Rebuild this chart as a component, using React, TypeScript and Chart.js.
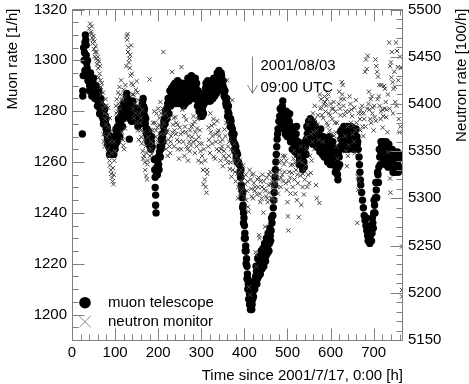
import React, { useEffect, useRef } from "react";
import { Chart, registerables } from "chart.js";

Chart.register(...registerables);

const FONT = "'Liberation Sans', Arial, Helvetica, sans-serif";
const AXIS_COLOR = "#808080";

// Axis ranges and ticks
const timeRange = [0, 768];
const muonRange = [1190, 1320];
const neutronRange = [5150, 5500];
const timeTicks = [0, 100, 200, 300, 400, 500, 600, 700];
const muonTicks = [1200, 1220, 1240, 1260, 1280, 1300, 1320];
const neutronTicks = [5150, 5200, 5250, 5300, 5350, 5400, 5450, 5500];

// Texts
const xTitle = "Time since 2001/7/17, 0:00 [h]";
const yTitle = "Muon rate [1/h]";
const y2Title = "Neutron rate [100/h]";
const seriesNames = ["muon telescope", "neutron monitor"];
const eventLines = ["2001/08/03", "09:00 UTC"];
const eventTime = 417;

// Muon telescope: [hours, rate 1/h]
const muonPoints: [number, number][] = [
  [24,1271],[25,1288],[25,1286],[26,1294],[27,1305],[28,1300],[29,1303],[30,1307],[31,1310],[32,1308],[33,1302],[34,1299],[35,1297],[36,1294],[37,1292],[38,1295],[39,1292],[40,1294],[41,1290],[42,1293],[43,1291],[44,1289],[45,1292],[47,1290],[48,1287],[49,1291],[51,1288],[52,1290],[54,1286],[55,1289],[57,1285],[58,1288],[60,1284],[61,1287],[62,1282],[63,1285],[65,1281],[66,1284],[67,1279],[68,1282],[70,1278],[71,1281],[72,1277],[74,1280],[75,1276],[77,1278],[78,1275],[79,1273],[80,1271],[81,1274],[82,1269],[83,1267],[84,1271],[85,1266],[86,1269],[88,1265],[89,1268],[90,1266],[92,1268],[93,1264],[95,1267],[96,1265],[98,1268],[99,1266],[100,1270],[101,1267],[103,1272],[104,1269],[106,1274],[107,1271],[109,1276],[110,1273],[112,1277],[113,1275],[115,1279],[116,1277],[118,1280],[119,1277],[121,1279],[122,1281],[124,1283],[125,1280],[126,1286],[127,1287],[128,1284],[130,1281],[131,1278],[132,1280],[133,1269],[134,1277],[136,1279],[137,1281],[139,1282],[140,1280],[142,1282],[143,1279],[145,1277],[146,1280],[148,1278],[149,1276],[151,1279],[152,1277],[154,1278],[155,1280],[157,1277],[158,1275],[160,1277],[161,1279],[163,1283],[164,1284],[166,1282],[167,1280],[169,1278],[170,1275],[172,1273],[173,1271],[175,1270],[176,1268],[178,1272],[179,1267],[181,1266],[182,1269],[184,1268],[186,1266],
  [191,1261],[192,1257],[193,1254],[193,1250],[194,1247],[194,1243],[195,1240],[196,1256],[197,1258],[198,1255],[199,1260],[200,1262],[201,1259],[203,1264],[204,1266],[206,1265],[207,1269],[209,1271],[210,1270],[212,1274],[213,1276],[215,1277],[216,1275],[218,1279],[219,1281],[221,1280],[222,1283],[224,1282],[226,1285],[228,1284],[230,1287],[232,1285],[234,1288],[236,1286],[238,1289],[240,1286],[242,1290],[244,1287],[246,1285],[248,1289],[250,1286],[252,1290],[254,1285],[256,1288],[258,1284],[260,1287],[262,1289],[264,1285],[266,1288],[268,1291],[270,1288],[272,1286],[274,1290],[276,1292],[278,1288],[280,1291],[282,1287],[284,1290],[286,1293],[288,1289],[290,1286],[292,1284],[294,1287],[296,1283],[298,1281],[300,1280],[302,1278],[304,1282],[306,1285],[308,1287],[310,1289],[312,1286],[314,1290],[316,1287],[318,1285],[320,1289],[322,1286],[324,1290],[326,1287],[328,1291],[330,1288],[332,1291],[334,1289],[336,1292],[338,1294],[340,1291],[342,1294],[344,1293],[346,1295],[348,1292],[350,1290],[352,1289],[354,1286],[356,1285],[358,1282],[360,1283],[362,1280],[364,1279],[366,1276],[368,1277],[370,1274],[372,1273],[374,1270],[376,1271],[378,1267],[380,1266],[382,1264],[384,1263],[386,1260],[388,1259],[390,1256],[391,1254],[392,1257],[393,1251],[394,1249],[395,1246],[396,1248],[397,1243],[398,1240],[399,1238],[400,1235],[401,1232],[402,1230],[403,1227],[404,1225],[405,1222],[406,1219],[407,1216],[408,1214],[409,1212],[410,1210],[411,1213],[412,1208],[413,1206],[414,1204],[415,1205],[416,1203],[417,1202],[418,1204],[419,1206],[420,1209],[421,1207],[422,1211],[423,1213],[424,1210],[426,1215],[428,1217],[430,1214],[432,1219],[434,1217],[436,1221],[438,1219],[440,1222],[442,1220],[444,1223],[446,1221],[448,1225],[450,1223],[452,1227],[454,1226],[456,1229],[458,1228],[460,1231],[462,1233],[464,1236],[466,1239],[467,1242],[468,1245],[469,1248],[470,1251],[471,1254],[472,1257],[473,1260],[474,1263],[475,1266],[476,1269],[477,1271],[478,1273],[480,1276],[482,1278],[484,1277],[486,1280],[488,1282],[490,1279],[492,1276],[494,1274],[496,1277],[498,1275],[500,1272],[502,1274],[504,1276],[506,1273],[508,1271],[510,1268],[512,1272],[514,1270],[516,1267],[518,1269],[520,1271],[522,1268],[524,1265],[526,1263],[528,1261],[530,1265],[532,1262],[534,1259],[536,1262],[538,1260],[540,1264],[542,1266],[544,1269],[546,1271],[548,1273],[550,1275],[552,1271],[554,1274],[556,1276],[558,1272],[560,1270],[562,1273],[564,1271],[566,1268],[568,1270],[570,1272],[572,1269],[574,1267],[576,1270],[578,1268],[580,1265],[582,1268],[584,1266],[586,1264],[588,1268],[590,1265],[592,1262],[594,1265],[596,1267],[598,1263],[600,1261],[602,1265],[604,1262],[606,1266],[608,1263],[610,1260],[612,1258],[614,1256],[616,1255],[618,1258],[620,1262],[622,1266],[624,1269],[626,1271],[628,1268],[630,1271],[632,1269],[634,1267],[636,1270],[638,1272],[640,1269],[642,1267],[644,1270],[646,1268],[648,1271],[650,1269],[652,1267],[654,1270],[656,1272],[658,1268],[660,1270],[662,1267],[664,1265],[666,1262],[667,1259],[668,1256],[669,1253],[670,1251],[672,1248],[674,1245],[676,1242],[678,1239],[680,1237],[682,1235],[684,1233],[686,1231],[688,1232],[690,1230],[692,1231],[694,1233],[696,1232],[698,1236],[700,1240],[702,1243],[704,1246],[706,1249],[708,1252],[710,1255],[712,1258],[714,1262],[716,1264],[718,1266],[720,1263],[722,1267],[724,1264],[726,1262],[728,1266],[730,1263],[732,1260],[734,1263],[736,1265],[738,1261],[740,1263],[742,1260],[744,1262],[746,1258],[748,1261],[750,1258],[752,1260],[754,1262],[756,1259],[758,1261],[760,1258]
];

// Muon telescope, additional hourly readings spread around the trend
const muonScatter: [number, number][] = [
  [30,1296],[33,1306],[36,1300],[40,1288],[43,1295],[46,1286],[50,1293],[53,1285],[56,1290],[59,1282],[62,1288],[64,1279],[67,1285],[70,1282],[73,1275],[76,1281],[79,1277],[82,1273],[85,1270],
  [87,1263],[91,1270],[94,1267],[97,1263],[100,1265],[102,1273],[105,1268],[108,1277],[111,1270],[114,1281],[117,1274],[120,1283],[123,1278],[129,1285],
  [135,1282],[138,1276],[141,1284],[144,1281],[147,1276],[150,1281],[153,1274],[156,1281],[159,1279],[162,1281],[165,1285],[168,1281],[171,1277],[174,1273],[177,1269],[180,1270],[183,1265],[185,1270],
  [202,1257],[205,1262],[208,1266],[211,1268],[214,1272],[217,1280],[220,1277],[223,1285],[225,1279],[227,1288],[229,1282],[231,1289],[233,1283],[235,1290],[237,1284],[239,1291],[241,1283],[243,1289],[245,1292],[247,1283],[249,1291],[251,1284],[253,1288],[255,1291],[257,1286],[259,1282],
  [261,1290],[263,1283],[265,1291],[267,1285],[269,1293],[271,1284],[273,1292],[275,1287],[277,1294],[279,1285],[281,1293],[283,1285],[285,1289],[287,1286],[289,1291],[291,1282],[293,1288],[295,1280],[297,1285],[299,1278],[301,1283],[303,1280],[305,1279],[307,1283],[309,1284],[311,1291],[313,1284],[315,1292],[317,1284],[319,1291],[321,1284],[323,1288],[325,1292],[327,1285],[329,1293],[331,1286],[333,1293],[335,1287],[337,1295],[339,1289],[341,1296],[343,1290],[345,1292],[347,1294],[349,1288],
  [351,1292],[353,1286],[355,1288],[357,1283],[359,1285],[361,1278],[363,1282],[365,1277],[367,1274],[369,1276],[371,1271],[373,1269],[375,1268],[377,1265],[379,1264],[381,1262],[383,1260],
  [396,1242],[398,1236],[400,1230],[402,1225],[404,1220],[406,1214],[408,1210],[410,1206],[412,1204],[414,1202],
  [425,1212],[427,1219],[429,1212],[431,1222],[433,1215],[435,1223],[437,1216],[439,1225],[441,1218],[443,1226],[445,1219],[447,1228],[449,1221],[451,1230],[453,1224],[455,1232],[457,1225],[459,1234],[461,1229],[463,1238],
  [483,1281],[485,1275],[487,1278],[489,1284],[491,1273],[493,1279],[495,1271],[497,1280],[499,1270],[501,1277],[503,1270],[505,1279],[507,1268],[509,1274],[511,1265],[513,1268],[515,1273],[517,1264],[519,1266],[521,1274],[523,1263],[525,1268],[527,1259],[529,1267],[531,1260],[533,1266],[535,1257],[537,1265],[539,1258],[541,1268],[543,1263],[545,1274],[547,1268],[549,1276],[551,1268],[553,1277],[555,1271],[557,1274],[559,1267],
  [561,1275],[563,1268],[565,1274],[567,1266],[569,1273],[571,1266],[573,1272],[575,1264],[577,1273],[579,1270],[581,1263],[583,1270],[585,1262],[587,1268],[589,1262],[591,1268],[593,1260],[595,1262],[597,1270],[599,1259],[601,1267],[603,1259],[605,1268],[607,1260],[609,1265],[611,1256],[613,1261],[615,1258],[617,1253],[619,1264],[621,1259],[623,1272],[625,1266],[627,1273],[629,1266],[631,1274],[633,1265],[635,1272],[637,1267],[639,1274],[641,1265],[643,1272],[645,1266],[647,1274],[649,1266],[651,1272],[653,1265],[655,1273],[657,1266],[659,1273],[661,1270],[663,1268],
  [683,1238],[685,1234],[687,1229],[689,1234],[691,1228],[693,1235],[695,1229],[697,1238],[699,1234],[701,1245],[703,1240],[705,1252],[707,1246],[709,1256],[711,1252],[713,1265],[715,1259],[717,1268],[719,1262],[721,1268],[723,1261],[725,1267],[727,1259],[729,1268],[731,1265],[733,1258],[735,1267],[737,1258],[739,1265],[741,1259],[743,1265],[745,1256],[747,1263],[749,1256],[751,1263],[753,1257],[755,1264],[757,1256],[759,1263],[761,1257]
];

// Neutron monitor: [hours, rate 100/h]
const neutronPoints: [number, number][] = [
  [40,5480],[42,5485],[44,5476],[45,5474],[46,5482],[47,5470],[48,5464],[49,5468],[50,5472],[51,5458],[52,5466],[53,5450],[54,5455],[55,5461],[56,5448],[57,5455],[58,5442],[59,5446],[60,5450],[61,5438],[62,5428],[63,5445],[64,5432],[65,5440],
  [66,5425],[67,5418],[68,5410],[69,5422],[70,5402],[71,5395],[72,5412],[73,5368],[74,5360],[75,5390],[76,5355],[76,5398],[77,5384],[78,5405],[79,5378],[80,5398],
  [81,5365],[82,5388],[83,5352],[84,5375],[84,5396],[85,5345],[86,5368],[87,5340],[88,5335],[88,5385],[89,5360],[90,5330],[91,5326],[92,5348],[92,5372],[93,5322],[94,5318],[95,5332],[96,5315],[97,5325],[97,5360],[98,5340],[100,5350],
  [102,5398],[103,5390],[104,5405],[106,5392],[107,5412],[108,5400],[110,5418],[111,5395],[112,5410],[114,5425],[115,5404],[116,5370],[117,5405],[118,5362],[119,5356],[120,5415],[121,5352],[122,5408],[123,5374],[124,5420],
  [126,5440],[127,5472],[128,5468],[129,5474],[130,5455],[131,5460],[132,5444],[133,5448],[134,5438],[135,5452],[136,5430],[137,5462],[138,5422],[139,5432],[140,5410],
  [141,5420],[142,5395],[143,5410],[144,5385],[146,5400],[147,5390],[148,5415],[149,5380],[150,5424],[152,5412],[153,5372],[154,5404],[155,5362],[156,5398],[157,5390],[158,5380],[159,5372],[160,5385],[161,5365],[162,5358],[163,5394],[164,5350],
  [165,5342],[166,5370],[167,5345],[168,5362],[169,5338],[170,5330],[171,5355],[172,5324],[173,5348],[174,5320],[175,5336],[176,5340],[177,5365],[178,5352],[180,5426],[181,5345],[182,5372],[183,5360],[184,5352],[185,5347],[187,5372],[188,5380],[189,5358],
  [191,5392],[192,5380],[194,5365],[195,5372],[196,5390],[198,5375],[199,5360],[200,5395],[202,5378],[203,5385],[205,5402],[206,5368],[207,5390],[209,5376],[210,5395],[211,5388],[212,5455],[213,5380],[214,5368],[216,5360],[217,5390],[218,5352],[220,5370],[221,5372],[222,5345],[224,5362],[225,5385],[226,5355],[228,5348],[229,5360],[230,5366],[232,5434],[233,5370],[234,5378],[236,5385],[237,5355],[238,5372],[240,5386],[241,5368],[242,5380],[244,5362],[245,5378],[246,5352],[248,5342],[249,5360],[250,5375],[252,5368],[253,5352],[254,5439],[256,5394],[257,5370],[258,5360],
  [260,5387],[261,5345],[262,5376],[264,5370],[265,5383],[266,5355],[268,5352],[269,5340],[270,5366],[272,5360],[273,5350],[274,5372],[276,5356],[277,5376],[278,5365],[280,5378],[281,5360],[282,5387],[284,5381],[285,5348],[286,5370],[288,5362],[289,5355],[290,5374],[292,5384],[293,5340],[294,5365],[296,5358],[297,5372],[298,5350],[300,5338],[301,5358],[302,5345],[304,5330],[305,5315],[306,5352],[308,5320],[309,5340],[310,5312],[312,5306],[313,5330],[314,5326],[316,5355],[317,5375],[318,5362],[320,5348],[321,5390],[322,5370],[324,5377],[325,5358],[326,5366],[328,5384],[329,5344],[330,5379],[332,5342],[333,5368],[334,5360],[336,5352],[337,5382],[338,5370],[340,5372],
  [341,5350],[342,5366],[344,5360],[345,5340],[346,5352],[348,5355],[349,5362],[350,5334],[352,5345],[353,5350],[354,5373],[356,5366],[357,5342],[358,5380],[360,5425],[361,5338],[362,5355],[364,5345],[365,5360],[366,5331],[368,5338],[369,5352],[370,5323],[372,5404],[373,5330],[374,5350],[376,5340],[377,5358],[378,5328],[380,5318],[381,5345],[382,5336],[384,5326],[385,5300],[386,5312],[388,5328],[389,5340],[390,5305],[392,5330],[393,5308],[394,5318],[396,5310],[397,5335],[398,5322],[400,5302],
  [402,5315],[403,5325],[404,5298],[406,5308],[407,5318],[408,5291],[410,5286],[411,5206],[412,5330],[413,5198],[415,5320],[416,5310],[417,5302],[418,5325],[420,5300],[421,5326],[422,5316],[424,5308],[425,5312],[426,5243],[427,5240],[428,5228],[429,5304],[430,5320],[432,5312],[433,5322],[434,5261],[435,5258],[436,5305],[437,5296],[438,5318],[440,5300],[441,5312],[442,5325],[444,5285],[445,5318],[446,5310],[448,5270],[449,5308],[450,5302],[452,5322],[453,5300],[454,5296],[456,5314],[457,5325],[458,5306],[460,5328],[461,5315],[462,5300],[464,5318],[465,5300],[466,5312],[468,5324],[469,5316],[470,5308],[472,5298],[473,5325],[474,5316],[476,5328],[477,5312],[478,5305],[480,5320],
  [481,5338],[482,5330],[484,5312],[485,5322],[486,5340],[488,5325],[489,5345],[490,5318],[492,5336],[493,5328],[494,5345],[496,5316],[497,5340],[498,5309],[500,5296],[501,5281],[502,5266],[503,5318],[504,5328],[506,5322],[507,5305],[508,5335],[510,5327],[511,5336],[512,5312],[514,5342],[515,5350],[516,5320],[518,5305],[519,5338],[520,5330],[522,5298],[523,5325],[524,5316],[526,5280],[527,5346],[528,5340],[530,5324],[531,5355],[532,5293],[534,5338],[535,5312],[536,5326],[538,5304],[539,5330],[540,5320],[542,5335],[543,5365],[544,5352],[546,5312],[547,5378],[548,5325],[550,5316],[551,5384],[552,5345],[554,5327],[555,5368],[556,5340],[558,5360],[559,5390],
  [560,5370],[562,5352],[563,5398],[564,5384],[566,5314],[567,5372],[568,5300],[570,5378],[571,5388],[572,5362],[574,5295],[575,5410],[576,5395],[578,5405],[579,5396],[580,5388],[582,5360],[583,5385],[584,5400],[586,5408],[587,5402],[588,5392],[590,5398],[591,5380],[592,5405],[594,5377],[595,5410],[596,5390],[598,5372],[599,5388],[600,5400],[602,5368],[603,5395],[604,5384],[606,5395],[607,5402],[608,5366],[610,5380],[611,5392],[612,5370],[614,5355],[615,5380],[616,5342],[618,5362],[619,5400],
  [620,5413],[622,5395],[623,5388],[624,5405],[626,5423],[627,5410],[628,5420],[630,5398],[631,5405],[632,5388],[634,5366],[635,5392],[636,5350],[638,5334],[639,5376],[640,5345],[642,5356],[643,5392],[644,5408],[646,5400],[647,5380],[648,5394],[650,5387],[651,5368],[652,5377],[654,5360],[655,5396],[656,5348],[658,5372],[659,5404],[660,5380],[662,5274],[663,5323],[664,5309],[665,5390],[666,5318],[668,5384],[669,5372],[670,5394],[672,5390],[673,5398],[674,5376],[676,5366],[677,5390],[678,5384],
  [680,5434],[681,5376],[682,5447],[684,5437],[685,5395],[686,5451],[688,5400],[689,5413],[690,5394],[692,5384],[693,5405],[694,5380],[696,5408],[697,5390],[698,5396],[700,5372],[701,5398],[702,5386],[704,5447],[705,5382],[706,5440],[708,5434],[709,5405],[710,5429],[712,5408],[713,5420],[714,5398],[716,5384],[717,5392],[718,5420],[720,5394],[721,5375],[722,5387],[724,5419],[725,5395],[726,5416],[728,5402],[729,5386],[730,5394],[732,5370],[733,5410],[734,5349],[736,5465],[737,5395],[738,5440],[738,5321],[739,5306],[740,5444],[741,5428],[742,5455],[744,5423],[745,5390],[746,5416],[748,5434],[749,5418],[750,5402],[752,5465],[753,5398],[754,5456],[756,5439],[757,5425],[758,5384],[760,5370],[761,5450],[762,5376],[763,5438],[766,5249],[766,5203],[766,5196]
];

const framePlugin = {
  id: "framePlugin",
  afterDraw(chart: any) {
    const { ctx, chartArea } = chart;
    const { left, right, top, bottom } = chartArea;
    const xs = chart.scales.x;
    const ys = chart.scales.y;
    const y2 = chart.scales.y2;
    const L = Math.floor(left) + 0.5;
    const R = Math.floor(right) - 0.5;
    const T = Math.floor(top) + 0.5;
    const B = Math.floor(bottom) + 0.5;
    ctx.save();
    ctx.strokeStyle = AXIS_COLOR;
    ctx.lineWidth = 1;
    ctx.strokeRect(L, T, R - L, B - T);
    ctx.beginPath();
    for (let v = timeRange[0]; v <= timeRange[1]; v += 20) {
      const px = Math.round(xs.getPixelForValue(v)) + 0.5;
      const len = v % 100 === 0 ? 12 : 6;
      ctx.moveTo(px, B); ctx.lineTo(px, B - len);
      ctx.moveTo(px, T); ctx.lineTo(px, T + len);
    }
    for (let v = Math.ceil(muonRange[0] / 5) * 5; v <= muonRange[1]; v += 5) {
      const py = Math.round(ys.getPixelForValue(v)) + 0.5;
      const len = v % 20 === 0 ? 12 : 6;
      ctx.moveTo(L, py); ctx.lineTo(L + len, py);
    }
    for (let v = neutronRange[0]; v <= neutronRange[1]; v += 10) {
      const py = Math.round(y2.getPixelForValue(v)) + 0.5;
      const len = v % 50 === 0 ? 12 : 6;
      ctx.moveTo(R, py); ctx.lineTo(R - len, py);
    }
    ctx.stroke();

    // event arrow
    const ax = Math.round(xs.getPixelForValue(eventTime)) + 0.5;
    const a0 = ys.getPixelForValue(1301.5);
    const a1 = ys.getPixelForValue(1287);
    ctx.beginPath();
    ctx.moveTo(ax, a0); ctx.lineTo(ax, a1);
    ctx.moveTo(ax - 5, a1 - 8.5); ctx.lineTo(ax, a1); ctx.lineTo(ax + 5, a1 - 8.5);
    ctx.stroke();

    ctx.fillStyle = "#000";
    ctx.font = `15px ${FONT}`;
    ctx.textAlign = "left";
    ctx.textBaseline = "middle";
    ctx.fillText(eventLines[0], ax + 8, ys.getPixelForValue(1298));
    ctx.fillText(eventLines[1], ax + 8, ys.getPixelForValue(1289.2));

    // legend
    const lx = left + 13;
    const ly1 = bottom - 37.3;
    const ly2 = bottom - 18.3;
    ctx.beginPath();
    ctx.arc(lx, ly1, 5.8, 0, Math.PI * 2);
    ctx.fill();
    ctx.strokeStyle = "#8a8a8a";
    ctx.beginPath();
    ctx.moveTo(lx - 5.8, ly2 - 5.8); ctx.lineTo(lx + 5.8, ly2 + 5.8);
    ctx.moveTo(lx - 5.8, ly2 + 5.8); ctx.lineTo(lx + 5.8, ly2 - 5.8);
    ctx.stroke();
    ctx.fillText(seriesNames[0], left + 36, ly1);
    ctx.fillText(seriesNames[1], left + 36, ly2);

    // axis titles
    ctx.textBaseline = "alphabetic";
    ctx.textAlign = "right";
    ctx.fillText(xTitle, right, bottom + 39.5);

    ctx.save();
    ctx.translate(16.5, top - 1);
    ctx.rotate(-Math.PI / 2);
    ctx.textAlign = "right";
    ctx.fillText(yTitle, 0, 0);
    ctx.restore();

    ctx.save();
    ctx.translate(466, top - 1);
    ctx.rotate(-Math.PI / 2);
    ctx.textAlign = "right";
    ctx.fillText(y2Title, 0, 0);
    ctx.restore();

    ctx.restore();
  },
};

const tickFont = { family: FONT, size: 15 };

export default function App() {
  const ref = useRef<HTMLCanvasElement>(null);
  useEffect(() => {
    document.body.style.margin = "0";
    const canvas = ref.current;
    if (!canvas) return;
    const chart = new Chart(canvas, {
      type: "scatter",
      data: {
        datasets: [
          {
            label: seriesNames[1],
            data: neutronPoints.map(([x, y]) => ({ x, y })),
            yAxisID: "y2",
            pointStyle: "crossRot",
            pointRadius: 3,
            borderColor: "#404040",
            backgroundColor: "#404040",
            borderWidth: 1,
            order: 0,
          },
          {
            label: seriesNames[0],
            data: muonPoints.concat(muonScatter).map(([x, y]) => ({ x, y })),
            yAxisID: "y",
            pointStyle: "circle",
            pointRadius: 3.7,
            backgroundColor: "#000",
            borderColor: "#000",
            borderWidth: 0,
            order: 1,
          },
        ],
      } as any,
      options: {
        responsive: false,
        animation: false,
        devicePixelRatio: 1,
        events: [],
        layout: { padding: { top: 9.5, left: 0, right: 0, bottom: 0 } },
        plugins: { legend: { display: false }, tooltip: { enabled: false } },
        scales: {
          x: {
            type: "linear",
            position: "bottom",
            min: timeRange[0],
            max: timeRange[1],
            afterBuildTicks: (s: any) => { s.ticks = timeTicks.map((v) => ({ value: v })); },
            afterFit: (s: any) => { s.height = 44; s.paddingLeft = 0; s.paddingRight = 0; },
            ticks: { font: tickFont, color: "#000", padding: 4, maxRotation: 0, autoSkip: false, callback: (v: any) => String(v) },
            grid: { display: false, drawTicks: false },
            border: { display: false },
          },
          y: {
            type: "linear",
            position: "left",
            min: muonRange[0],
            max: muonRange[1],
            afterBuildTicks: (s: any) => { s.ticks = muonTicks.map((v) => ({ value: v })); },
            afterFit: (s: any) => { s.width = 72; s.paddingTop = 0; s.paddingBottom = 0; },
            ticks: { font: tickFont, color: "#000", padding: 5, autoSkip: false, callback: (v: any) => String(v) },
            grid: { display: false, drawTicks: false },
            border: { display: false },
          },
          y2: {
            type: "linear",
            position: "right",
            min: neutronRange[0],
            max: neutronRange[1],
            afterBuildTicks: (s: any) => { s.ticks = neutronTicks.map((v) => ({ value: v })); },
            afterFit: (s: any) => { s.width = 66; s.paddingTop = 0; s.paddingBottom = 0; },
            ticks: { font: tickFont, color: "#000", padding: 5, autoSkip: false, callback: (v: any) => String(v) },
            grid: { display: false, drawTicks: false },
            border: { display: false },
          },
        },
      } as any,
      plugins: [framePlugin],
    });
    return () => chart.destroy();
  }, []);
  return <canvas ref={ref} width={469} height={384} style={{ display: "block" }} />;
}
